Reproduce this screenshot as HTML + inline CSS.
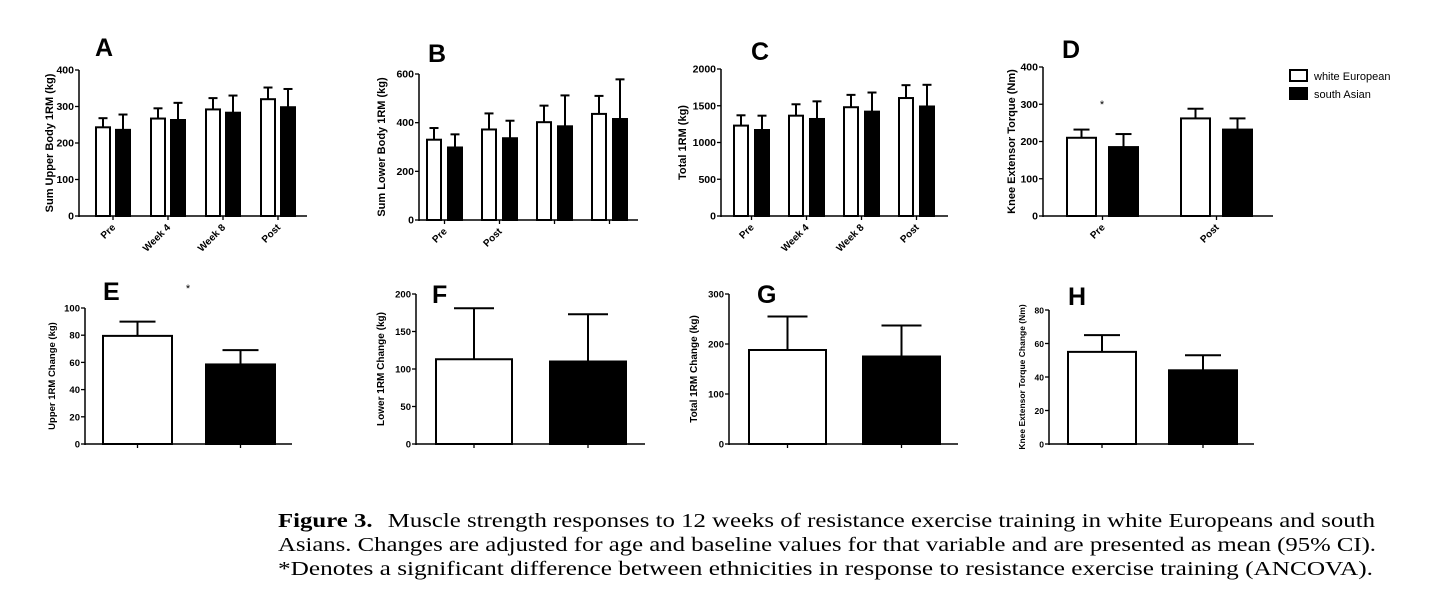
<!DOCTYPE html>
<html><head><meta charset="utf-8"><style>
body{margin:0;background:#fff;}
svg{display:block;font-family:"Liberation Sans",Arial,sans-serif;}
</style></head><body>
<svg id="fig" width="1456" height="598" viewBox="0 0 1456 598" xmlns="http://www.w3.org/2000/svg">
<g>
<rect x="1290" y="70" width="17" height="11" fill="#fff" stroke="#000" stroke-width="2"/>
<text x="1314" y="80" font-size="11">white European</text>
<rect x="1290" y="88" width="17" height="11" fill="#000" stroke="#000" stroke-width="2"/>
<text x="1314" y="98" font-size="11">south Asian</text>
</g>
<g font-family="'Liberation Serif',serif" font-size="19.5">
<text x="278" y="527" textLength="1097" lengthAdjust="spacingAndGlyphs"><tspan font-weight="bold">Figure 3.</tspan><tspan dx="12">Muscle strength responses to 12 weeks of resistance exercise training in white Europeans and south</tspan></text>
<text x="278" y="551" textLength="1098" lengthAdjust="spacingAndGlyphs">Asians. Changes are adjusted for age and baseline values for that variable and are presented as mean (95% CI).</text>
<text x="278" y="575" textLength="1095" lengthAdjust="spacingAndGlyphs">*Denotes a significant difference between ethnicities in response to resistance exercise training (ANCOVA).</text>
</g>
</svg>
<script>
// Panel data arrays
const catsA = ["Pre","Week 4","Week 8","Post"];
const whiteA = [243,267,292,320];
const whiteErrA = [268,295,323,352];
const blackA = [236,263,283,298];
const blackErrA = [278,310,330,348];
const ticksA = [0,100,200,300,400];

const catsB = ["Pre","Post","",""];
const whiteB = [330,372,402,436];
const whiteErrB = [378,438,470,510];
const blackB = [298,336,385,415];
const blackErrB = [352,408,512,578];
const ticksB = [0,200,400,600];

const catsC = ["Pre","Week 4","Week 8","Post"];
const whiteC = [1230,1365,1480,1605];
const whiteErrC = [1370,1520,1648,1780];
const blackC = [1170,1320,1420,1490];
const blackErrC = [1365,1560,1680,1785];
const ticksC = [0,500,1000,1500,2000];

const catsD = ["Pre","Post"];
const whiteD = [210,262];
const whiteErrD = [232,288];
const blackD = [185,232];
const blackErrD = [220,262];
const ticksD = [0,100,200,300,400];

const whiteE = [79.5]; const whiteErrE = [90]; const blackE = [58.5]; const blackErrE = [69];
const ticksE = [0,20,40,60,80,100];
const whiteF = [113]; const whiteErrF = [181]; const blackF = [110]; const blackErrF = [173];
const ticksF = [0,50,100,150,200];
const whiteG = [188]; const whiteErrG = [255]; const blackG = [175]; const blackErrG = [237];
const ticksG = [0,100,200,300];
const whiteH = [55]; const whiteErrH = [65]; const blackH = [44]; const blackErrH = [53];
const ticksH = [0,20,40,60,80];

const NS="http://www.w3.org/2000/svg";
const svg=document.getElementById('fig');
function el(tag,attrs,parent){const e=document.createElementNS(NS,tag);for(const k in attrs)e.setAttribute(k,attrs[k]);(parent||svg).appendChild(e);return e;}

function panel(p){
  const g=el('g',{});
  
  
  const yMax=p.ticks[p.ticks.length-1];
  const y=v=>p.y0-(v/yMax)*(p.y0-p.yTop);
  const n=p.white.length;
  for(let i=0;i<n;i++){
    const gx=p.firstX+i*p.step;
    const series=[[p.white[i],p.whiteErr[i],'#fff',gx],[p.black[i],p.blackErr[i],'#000',gx+p.bw+p.gap]];
    series.forEach((s,j)=>{
      const cx=s[3]+p.bw/2;
      const eb=el('line',{x1:cx,x2:cx,y1:y(s[0]),y2:y(s[1]),stroke:'#000','stroke-width':2},g);
      
      
      const cap=el('line',{x1:cx-p.cap/2,x2:cx+p.cap/2,y1:y(s[1]),y2:y(s[1]),stroke:'#000','stroke-width':2},g);
      
      
      const r=el('rect',{x:s[3],y:y(s[0]),width:p.bw,height:p.y0-y(s[0]),fill:s[2],stroke:'#000','stroke-width':2},g);
      
      
      if(p.perBarTicks){
        const t=el('line',{x1:cx,x2:cx,y1:p.y0,y2:p.y0+4,stroke:'#000','stroke-width':1.3},g);
        
        
      }
    });
    if(!p.perBarTicks){
      const tx=gx+p.bw+p.gap/2;
      const t=el('line',{x1:tx,x2:tx,y1:p.y0,y2:p.y0+4,stroke:'#000','stroke-width':1.3},g);
      
      
      if(p.cats&&p.cats[i]){
        const lb=el('text',{x:tx+3,y:p.y0+12,'font-size':10,'font-weight':'bold','text-anchor':'end',transform:`rotate(-45 ${tx+3} ${p.y0+12})`},g);
        lb.textContent=p.cats[i];
        
        
      }
    }
  }
  const ya=el('line',{x1:p.x0,x2:p.x0,y1:p.yTop,y2:p.y0+1,stroke:'#000','stroke-width':1.5},g);
  
  
  const xa=el('line',{x1:p.x0,x2:p.xEnd,y1:p.y0,y2:p.y0,stroke:'#000','stroke-width':1.5},g);
  
  
  p.ticks.forEach(v=>{
    const tk=el('line',{x1:p.x0-4,x2:p.x0,y1:y(v),y2:y(v),stroke:'#000','stroke-width':1.3},g);
    
    
    const tl=el('text',{x:p.x0-5,y:y(v)+3.5,'font-size':p.tfs||10.5,'font-weight':'bold','text-anchor':'end'},g);
    tl.textContent=v;
    
    
  });
  const yc=(p.y0+p.yTop)/2;
  const tt=el('text',{x:p.tx,y:yc,'font-size':p.tfs2||11,'font-weight':'bold','text-anchor':'middle',transform:`rotate(-90 ${p.tx} ${yc})`},g);
  tt.textContent=p.title;
  
  
  const L=el('text',{x:p.lx,y:p.ly,'font-size':25,'font-weight':'bold'},g);
  L.textContent=p.id;
  
  
  if(p.star){
    const s=el('text',{x:p.star[0],y:p.star[1],'font-size':11,'text-anchor':'middle'},g);
    s.textContent='*';
    
    
  }
}

panel({id:'A',cats:catsA,white:whiteA,whiteErr:whiteErrA,black:blackA,blackErr:blackErrA,ticks:ticksA,
 x0:79,xEnd:307,y0:216,yTop:70,firstX:96,step:55,bw:14,gap:6,cap:9,tx:53,lx:95,ly:56,title:'Sum  Upper Body 1RM  (kg)'});
panel({id:'B',cats:catsB,white:whiteB,whiteErr:whiteErrB,black:blackB,blackErr:blackErrB,ticks:ticksB,
 x0:419,xEnd:638,y0:220,yTop:74,firstX:427,step:55,bw:14,gap:7,cap:9,tx:385,lx:428,ly:62,title:'Sum Lower Body 1RM  (kg)'});
panel({id:'C',cats:catsC,white:whiteC,whiteErr:whiteErrC,black:blackC,blackErr:blackErrC,ticks:ticksC,
 x0:721,xEnd:948,y0:216,yTop:69,firstX:734,step:55,bw:14,gap:7,cap:9,tx:686,lx:751,ly:60,title:'Total 1RM  (kg)'});
panel({id:'D',cats:catsD,white:whiteD,whiteErr:whiteErrD,black:blackD,blackErr:blackErrD,ticks:ticksD,
 x0:1043,xEnd:1273,y0:216,yTop:67,firstX:1067,step:114,bw:29,gap:13,cap:16,tx:1015,lx:1062,ly:58,title:'Knee Extensor Torque (Nm)',star:[1102,108]});
panel({id:'E',white:whiteE,whiteErr:whiteErrE,black:blackE,blackErr:blackErrE,ticks:ticksE,perBarTicks:true,
 x0:85,xEnd:292,y0:444,yTop:308,firstX:103,step:0,bw:69,gap:34,cap:36,tx:55,lx:103,ly:300,title:'Upper 1RM Change (kg)',tfs:9.5,tfs2:9.5,star:[188,292]});
panel({id:'F',white:whiteF,whiteErr:whiteErrF,black:blackF,blackErr:blackErrF,ticks:ticksF,perBarTicks:true,
 x0:416,xEnd:645,y0:444,yTop:294,firstX:436,step:0,bw:76,gap:38,cap:40,tx:384,lx:432,ly:303,title:'Lower 1RM Change (kg)',tfs:9.5,tfs2:10});
panel({id:'G',white:whiteG,whiteErr:whiteErrG,black:blackG,blackErr:blackErrG,ticks:ticksG,perBarTicks:true,
 x0:729,xEnd:958,y0:444,yTop:294,firstX:749,step:0,bw:77,gap:37,cap:40,tx:697,lx:757,ly:303,title:'Total 1RM Change (kg)',tfs:9.5,tfs2:10});
panel({id:'H',white:whiteH,whiteErr:whiteErrH,black:blackH,blackErr:blackErrH,ticks:ticksH,perBarTicks:true,
 x0:1049,xEnd:1254,y0:444,yTop:310,firstX:1068,step:0,bw:68,gap:33,cap:36,tx:1025,lx:1068,ly:305,title:'Knee Extensor Torque Change (Nm)',tfs:8.5,tfs2:8.5});
</script>
</body></html>
